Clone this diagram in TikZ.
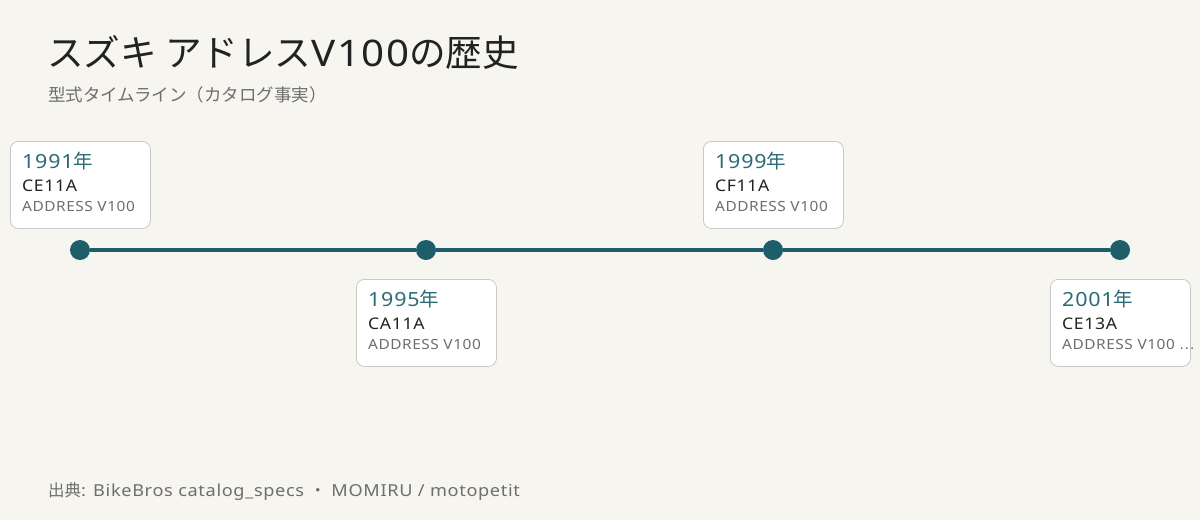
\documentclass[tikz,border=0pt]{standalone}
\usepackage{fontspec}
\setmainfont{Noto Sans}[FakeStretch=1.1, LetterSpace=4]
\newfontfamily\jp{Noto Sans CJK JP}
\usetikzlibrary{positioning}
\definecolor{bgcol}{HTML}{F6F5F0}
\definecolor{teal}{HTML}{1D5E6A}
\definecolor{yearcol}{HTML}{2B6C78}
\definecolor{ink}{HTML}{222222}
\definecolor{muted}{HTML}{6E6E6E}
\definecolor{edge}{HTML}{C8C8C4}

\begin{document}
\begin{tikzpicture}[x=1pt,y=-1pt,
  dot/.style={fill=teal, circle, minimum size=20pt, inner sep=0pt},
  card/.style={draw=edge, fill=white, rounded corners=8pt, line width=0.8pt, minimum width=140pt, minimum height=87pt, inner sep=0pt},
  yr/.style={anchor=base west, inner sep=0pt, font=\fontsize{19.5}{24}\selectfont, text=yearcol},
  code/.style={anchor=base west, inner sep=0pt, font=\fontsize{16}{19}\selectfont, text=ink},
  model/.style={anchor=base west, inner sep=0pt, font=\fontsize{14}{17}\selectfont, text=muted}]
  \fill[bgcol] (0,0) rectangle (1200,520);
  \useasboundingbox (0,0) rectangle (1200,520);

  \node[anchor=base west, inner sep=0pt, font=\fontsize{36.6}{42}\selectfont, text=ink] (title) at (47,66) {{\jp スズキ アドレス}V100{\jp の歴史}};
  \node[anchor=base west, inner sep=0pt, font=\fontsize{17.5}{21}\jp, text=muted] (subtitle) at (48,101) {型式タイムライン（カタログ事実）};

  \node[dot] (d1) at (80,250) {};
  \node[dot] (d2) at (426,250) {};
  \node[dot] (d3) at (773,250) {};
  \node[dot] (d4) at (1120,250) {};
  \draw[teal, line width=4pt] (d1) -- (d2) -- (d3) -- (d4);

  \foreach \n/\bx/\by/\yy/\cc/\mm in {a/10/141/1991/CE11A/ADDRESS V100, b/356/279/1995/CA11A/ADDRESS V100, c/703/141/1999/CF11A/ADDRESS V100, d/1050/279/2001/CE13A/ADDRESS V100 {\jp ⋯}}{
    \node[card, anchor=north west] (card\n) at (\bx,\by) {};
    \node[yr] (year\n) at (\bx+12,\by+27) {\yy{\jp 年}};
    \node[code] (code\n) at (\bx+12,\by+50) {\cc};
    \node[model] (model\n) at (\bx+12,\by+70) {\mm};
  }

  \node[anchor=base west, inner sep=0pt, font=\fontsize{16.5}{20}\selectfont, text=muted] (source) at (48,496) {{\jp 出典}: BikeBros catalog\_specs {\jp ・} MOMIRU / motopetit};
\end{tikzpicture}
\end{document}
